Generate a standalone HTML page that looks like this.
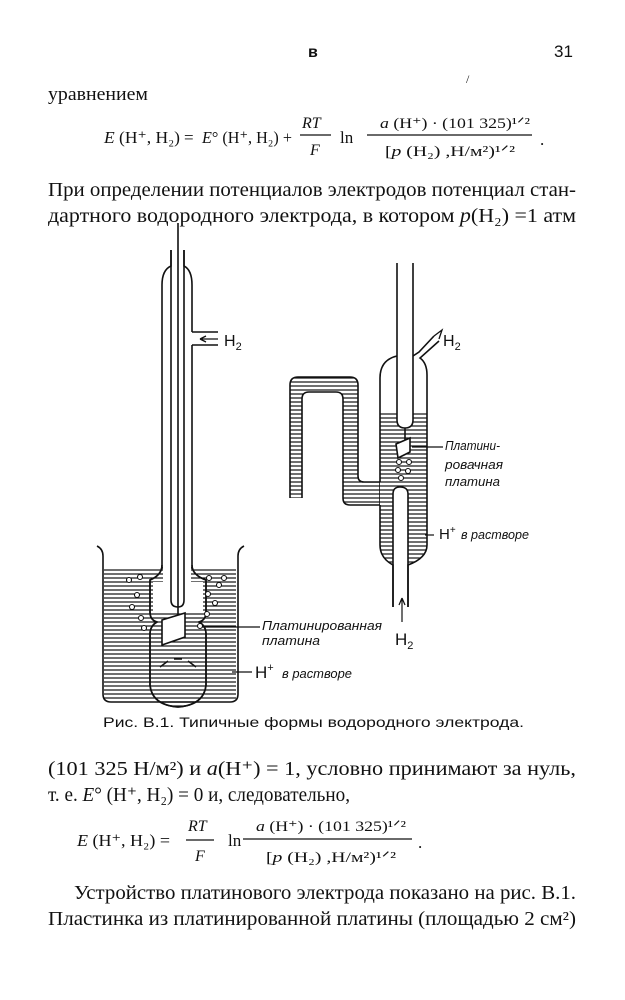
<!DOCTYPE html>
<html><head><meta charset="utf-8"><style>
html,body{margin:0;padding:0;background:#fff;}
svg{display:block;}
.s{font-family:"Liberation Serif",serif;fill:#111;}
.a{font-family:"Liberation Sans",sans-serif;fill:#111;}
.i{font-family:"Liberation Sans",sans-serif;font-style:italic;fill:#111;}
</style></head><body>
<svg width="625" height="1000" viewBox="0 0 625 1000" xmlns="http://www.w3.org/2000/svg">
<defs>
<pattern id="h" width="10" height="4" patternUnits="userSpaceOnUse">
<rect width="10" height="4" fill="#fff"/><line x1="0" y1="2" x2="10" y2="2" stroke="#111" stroke-width="1.2"/>
</pattern>
</defs>
<!-- header -->
<text class="a" x="308" y="57" font-size="16" font-weight="bold">в</text>
<text class="a" x="554" y="57" font-size="17">31</text>
<text class="s" x="466" y="83" font-size="12">/</text>
<text class="s" x="48" y="100" font-size="19" textLength="100" lengthAdjust="spacingAndGlyphs">уравнением</text>
<!-- equation 1 -->
<text class="s" font-size="17" y="143" x="104" textLength="76" lengthAdjust="spacingAndGlyphs"><tspan font-style="italic">E</tspan> (H⁺, H₂)</text>
<text class="s" font-size="17" y="143" x="184">=</text>
<text class="s" font-size="17" y="143" x="202" textLength="90" lengthAdjust="spacingAndGlyphs"><tspan font-style="italic">E</tspan>° (H⁺, H₂) +</text>
<text class="s" x="302" y="128" font-size="16" font-style="italic">RT</text>
<line x1="300" y1="135" x2="331" y2="135" stroke="#111" stroke-width="1.3"/>
<text class="s" x="310" y="155" font-size="16" font-style="italic">F</text>
<text class="s" x="340" y="143" font-size="17">ln</text>
<text class="s" x="380" y="128" font-size="15" textLength="150" lengthAdjust="spacingAndGlyphs"><tspan font-style="italic">a</tspan> (H⁺) · (101 325)¹ᐟ²</text>
<line x1="367" y1="135" x2="532" y2="135" stroke="#111" stroke-width="1.3"/>
<text class="s" x="385" y="156" font-size="15" textLength="130" lengthAdjust="spacingAndGlyphs">[<tspan font-style="italic">p</tspan> (H₂) ,Н/м²)¹ᐟ²</text>
<text class="s" x="540" y="145" font-size="17">.</text>
<text class="s" x="48" y="196" font-size="20" textLength="528" lengthAdjust="spacingAndGlyphs">При определении потенциалов электродов потенциал стан-</text>
<text class="s" x="48" y="222" font-size="20" textLength="528" lengthAdjust="spacingAndGlyphs">дартного водородного электрода, в котором <tspan font-style="italic">p</tspan>(H₂) =1 атм</text>

<g fill="none" stroke="#111" stroke-width="1.6">
<rect x="104" y="568" width="132" height="132" fill="url(#h)" stroke="none"/>
<path d="M162,568 L162,565 Q162,575 150,580 L150,612 Q150,620 157,622 Q150,626 150,634 L150,685 Q152,705 178,707 Q204,705 206,685 L206,634 Q206,626 199,622 Q206,620 206,612 L206,580 Q192,575 192,565 L192,568 Z" fill="url(#h)"/>
<rect x="163" y="560" width="28" height="52" fill="#fff" stroke="none"/>
<rect x="153" y="582" width="50" height="30" fill="#fff" stroke="none"/>
<path d="M97,546 Q103,549 103,556 L103,694 Q103,702 111,702 L230,702 Q238,702 238,694 L238,556 Q238,549 244,546"/>
<path d="M171,250 L171,266 Q162,270 162,285 L162,565 Q162,575 150,580 L150,612 Q150,620 157,622 Q150,626 150,634 L150,685 Q152,705 178,707 Q204,705 206,685 L206,634 Q206,626 199,622 Q206,620 206,612 L206,580 Q192,575 192,565 L192,345"/>
<path d="M184,250 L184,266 Q192,270 192,285 L192,332"/>
<path d="M192,332 L218,332 M192,345 L218,345"/>
<path d="M171,250 L171,600 Q171,607 178,607 Q184,607 184,600 L184,250"/>
<line x1="178" y1="223" x2="178" y2="614"/>
<polygon points="162,620 185,613 185,637 162,645" fill="#fff"/>
<line x1="200" y1="627" x2="260" y2="627" stroke-width="1.2"/>
<path d="M160,667 L168,661 M174,659 L182,659 M188,661 L196,667" stroke-width="1.5"/>
<path d="M200,339 L218,339 M200,339 l6,-3 M200,339 l6,3" stroke-width="1.3"/>
<line x1="232" y1="672" x2="252" y2="672" stroke-width="1.2"/>
<g stroke-width="1.1" fill="#fff">
<circle cx="129" cy="580" r="2.5"/><circle cx="140" cy="577" r="2.5"/><circle cx="137" cy="595" r="2.5"/><circle cx="132" cy="607" r="2.5"/><circle cx="141" cy="618" r="2.5"/><circle cx="144" cy="628" r="2.5"/>
<circle cx="209" cy="578" r="2.5"/><circle cx="224" cy="578" r="2.5"/><circle cx="219" cy="585" r="2.5"/><circle cx="208" cy="594" r="2.5"/><circle cx="215" cy="603" r="2.5"/><circle cx="207" cy="614" r="2.5"/><circle cx="200" cy="626" r="2.5"/>
</g>
<path d="M290,498 L290,385 Q290,377 298,377 L350,377 Q358,377 358,385 L358,476 Q358,482 364,482 L380,482 L380,505 L350,505 Q343,505 343,498 L343,399 Q343,392 336,392 L309,392 Q302,392 302,399 L302,498" fill="url(#h)"/>
<path d="M380,413 L427,413 L427,545 Q427,558 408,565 L393,565 Q380,558 380,545 Z" fill="url(#h)" stroke="none"/>
<rect x="381" y="482" width="4" height="22" fill="url(#h)" stroke="none"/>
<path d="M393,607 L393,494 Q393,487 400,487 Q408,487 408,494 L408,607" fill="#fff"/>
<rect x="394" y="495" width="13" height="80" fill="#fff" stroke="none"/>
<path d="M380,482 L380,378 Q380,360 397,356 M413,356 L419,352 L434,336"/>
<path d="M380,505 L380,545 Q380,558 393,565 L393,607"/>
<path d="M427,375 L427,545 Q427,558 408,565 L408,607"/>
<path d="M427,375 Q427,363 420,358 L439,341"/>
<path d="M434,336 l8,-6 l-3,9" stroke-width="1.3"/>
<path d="M397,263 L397,420 Q397,428 405,428 Q413,428 413,420 L413,263" fill="#fff"/>
<line x1="405" y1="428" x2="405" y2="442"/>
<polygon points="396,444 410,438 410,452 398,458" fill="#fff"/>
<line x1="412" y1="447" x2="443" y2="447" stroke-width="1.2"/>
<g stroke-width="1.1" fill="#fff"><circle cx="399" cy="462" r="2.5"/><circle cx="409" cy="462" r="2.5"/><circle cx="398" cy="470" r="2.5"/><circle cx="408" cy="471" r="2.5"/><circle cx="401" cy="478" r="2.5"/></g>
<line x1="425" y1="535" x2="434" y2="535" stroke-width="1.2"/>
<path d="M402,622 L402,598 M402,598 l-3,7 M402,598 l3,7" stroke-width="1.2"/>
</g>
<text class="a" x="224" y="346" font-size="16">H<tspan font-size="11" dy="4">2</tspan></text>
<text class="a" x="443" y="346" font-size="16">H<tspan font-size="11" dy="4">2</tspan></text>
<text class="a" x="395" y="645" font-size="17">H<tspan font-size="11" dy="4">2</tspan></text>
<text class="i" x="262" y="630" font-size="13" textLength="120" lengthAdjust="spacingAndGlyphs">Платинированная</text>
<text class="i" x="262" y="645" font-size="13" textLength="58" lengthAdjust="spacingAndGlyphs">платина</text>
<text class="a" x="255" y="678" font-size="17">H<tspan font-size="11" dy="-7">+</tspan></text>
<text class="i" x="282" y="678" font-size="13" textLength="70" lengthAdjust="spacingAndGlyphs">в растворе</text>
<text class="i" x="445" y="450" font-size="13" textLength="55" lengthAdjust="spacingAndGlyphs">Платини-</text>
<text class="i" x="445" y="469" font-size="13" textLength="58" lengthAdjust="spacingAndGlyphs">ровачная</text>
<text class="i" x="445" y="486" font-size="13" textLength="55" lengthAdjust="spacingAndGlyphs">платина</text>
<text class="a" x="439" y="539" font-size="15">H<tspan font-size="10" dy="-6">+</tspan></text>
<text class="i" x="461" y="539" font-size="13" textLength="68" lengthAdjust="spacingAndGlyphs">в растворе</text>
<text class="a" x="103" y="727" font-size="14" textLength="421" lengthAdjust="spacingAndGlyphs">Рис. В.1. Типичные формы водородного электрода.</text>

<text class="s" x="48" y="775" font-size="20" textLength="528" lengthAdjust="spacingAndGlyphs">(101 325 Н/м²) и <tspan font-style="italic">a</tspan>(H⁺) = 1, условно принимают за нуль,</text>
<text class="s" x="48" y="801" font-size="20" textLength="302" lengthAdjust="spacingAndGlyphs">т. е. <tspan font-style="italic">E</tspan>° (H⁺, H₂) = 0 и, следовательно,</text>
<text class="s" font-size="17" y="846" x="77" textLength="93" lengthAdjust="spacingAndGlyphs"><tspan font-style="italic">E</tspan> (H⁺,  H₂) =</text>
<text class="s" x="188" y="831" font-size="16" font-style="italic">RT</text>
<line x1="186" y1="840" x2="214" y2="840" stroke="#111" stroke-width="1.3"/>
<text class="s" x="195" y="861" font-size="16" font-style="italic">F</text>
<text class="s" x="228" y="846" font-size="17">ln</text>
<text class="s" x="256" y="831" font-size="15" textLength="150" lengthAdjust="spacingAndGlyphs"><tspan font-style="italic">a</tspan> (H⁺) · (101 325)¹ᐟ²</text>
<line x1="243" y1="839" x2="412" y2="839" stroke="#111" stroke-width="1.3"/>
<text class="s" x="266" y="862" font-size="15" textLength="130" lengthAdjust="spacingAndGlyphs">[<tspan font-style="italic">p</tspan> (H₂) ,Н/м²)¹ᐟ²</text>
<text class="s" x="418" y="848" font-size="17">.</text>
<text class="s" x="74" y="899" font-size="20" textLength="502" lengthAdjust="spacingAndGlyphs">Устройство платинового электрода показано на рис. В.1.</text>
<text class="s" x="48" y="925" font-size="20" textLength="528" lengthAdjust="spacingAndGlyphs">Пластинка из платинированной платины (площадью 2 см²)</text>
</svg>
</body></html>
